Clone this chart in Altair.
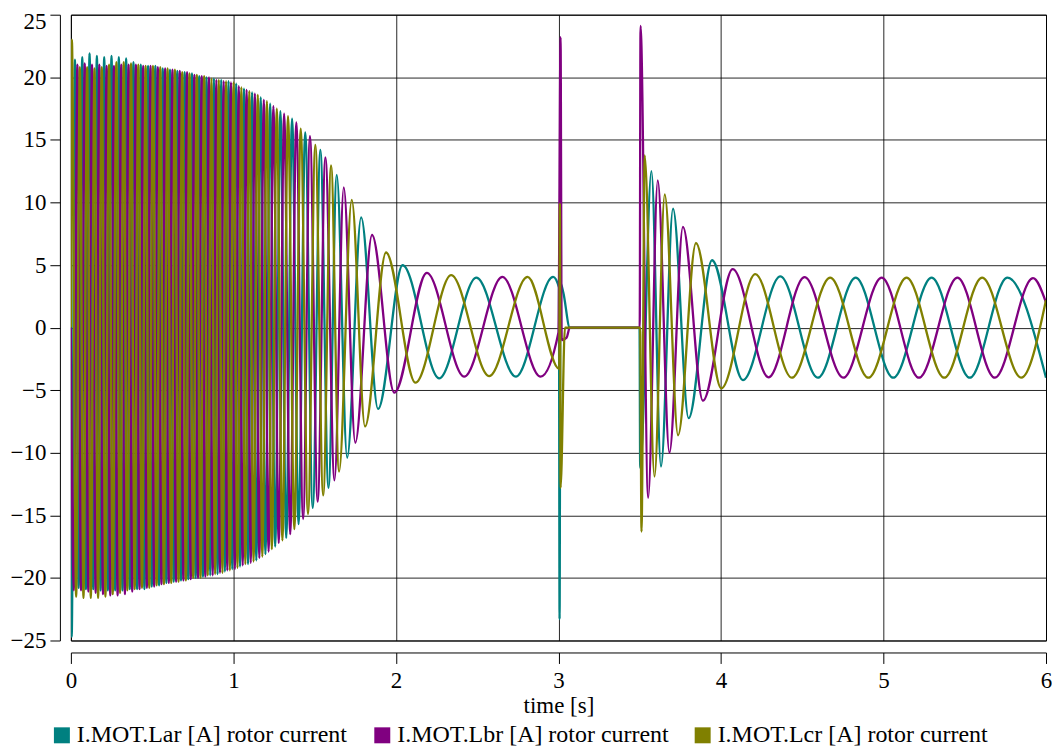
import altair as alt
import pandas as pd

LABELS = ["I.MOT.Lar [A] rotor current", "I.MOT.Lbr [A] rotor current", "I.MOT.Lcr [A] rotor current"]
COLORS = ["#008080", "#800080", "#808000"]
X_TICKS = [0, 1, 2, 3, 4, 5, 6]
Y_TICKS = [-25, -20, -15, -10, -5, 0, 5, 10, 15, 20, 25]

# extrema (time in s, current in A)
t_a = [0, 0.005,
       0.025, 0.0475, 0.070, 0.0925, 0.115, 0.1375, 0.160, 0.1825, 0.205, 0.2275, 0.250, 0.2725,
       0.295, 0.3175, 0.340, 0.3625, 0.385, 0.4075, 0.430, 0.4525, 0.475, 0.4975, 0.520, 0.5425,
       0.565, 0.5875, 0.610, 0.6325, 0.655, 0.6775, 0.700, 0.7225, 0.745, 0.7675, 0.790, 0.8125,
       0.835, 0.8575, 0.880, 0.9025, 0.925, 0.9475, 0.970, 0.993, 1.017, 1.041, 1.065, 1.090,
       1.115, 1.141, 1.168, 1.197, 1.226, 1.257, 1.289, 1.325, 1.361, 1.401, 1.442, 1.488,
       1.535, 1.585, 1.636,
       1.70, 1.786, 1.89, 2.041, 2.266, 2.495, 2.738, 2.967,
       3.003, 3.007, 3.012, 3.03, 3.07, 3.499, 3.503,
       3.572, 3.631, 3.705, 3.801, 3.945, 4.135, 4.365, 4.596, 4.829, 5.060, 5.296, 5.531, 5.762, 6.0]
v_a = [0, -24.7,
       21.4, -20.8, 21.6, -20.9, 21.9, -20.9, 21.7, -21.0, 21.6, -21.0, 21.7, -21.0,
       21.6, -21.0, 21.5, -20.9, 21.2, -20.9, 21.0, -20.9, 20.9, -20.7, 20.9, -20.6,
       20.7, -20.4, 20.6, -20.3, 20.5, -20.2, 20.4, -20.1, 20.3, -20.0, 20.1, -19.9,
       20.0, -19.8, 19.9, -19.7, 19.8, -19.5, 19.7, -19.3, 19.5, -19.1, 19.1, -18.9,
       18.8, -18.6, 18.4, -18.1, 17.9, -17.5, 17.3, -16.8, 16.7, -15.7, 15.6, -14.4,
       14.2, -12.8, 12.2,
       -10.4, 8.8, -6.5, 4.98, -4.05, 4.0, -3.92, 4.05,
       3.2, -23.3, 3.6, 2.8, 0, 0, -11.2,
       12.5, -11.1, 9.5, -7.24, 5.38, -4.19, 4.1, -4.0, 4.0, -4.0, 4.0, -4.0, 4.0, -4.0]

t_b = [0, 0.0175,
       0.040, 0.0625, 0.085, 0.1075, 0.130, 0.1525, 0.175, 0.1975, 0.220, 0.2425, 0.265, 0.2875,
       0.310, 0.3325, 0.355, 0.3775, 0.400, 0.4225, 0.445, 0.4675, 0.490, 0.5125, 0.535, 0.5575,
       0.580, 0.6025, 0.625, 0.6475, 0.670, 0.6925, 0.715, 0.7375, 0.760, 0.7825, 0.805, 0.8275,
       0.850, 0.8725, 0.895, 0.9175, 0.940, 0.9625, 0.985, 1.009, 1.033, 1.057, 1.081, 1.1065,
       1.132, 1.1595, 1.187, 1.2165, 1.246, 1.279, 1.312, 1.3495, 1.387, 1.429, 1.471, 1.5185,
       1.566,
       1.622, 1.679, 1.75, 1.853, 1.99, 2.19, 2.42, 2.655, 2.89,
       3.0, 3.013, 3.02, 3.05, 3.07, 3.5, 3.505,
       3.552, 3.611, 3.683, 3.766, 3.889, 4.072, 4.293, 4.514, 4.753, 4.989, 5.218, 5.455, 5.685,
       5.920, 6.0]
v_b = [0, -21.0,
       21.0, -21.0, 21.1, -21.1, 21.0, -21.2, 21.0, -21.3, 20.9, -21.4, 20.9, -21.4,
       21.0, -21.3, 21.0, -21.1, 21.0, -20.9, 20.9, -20.8, 20.9, -20.7, 20.8, -20.5,
       20.7, -20.4, 20.6, -20.3, 20.5, -20.2, 20.4, -20.1, 20.2, -20.0, 20.1, -19.9,
       20.0, -19.8, 19.8, -19.6, 19.7, -19.4, 19.6, -19.3, 19.3, -19.0, 19.0, -18.8,
       18.7, -18.4, 18.2, -17.9, 17.7, -17.2, 17.1, -16.5, 16.4, -15.3, 15.3, -13.9,
       13.6,
       -12.2, 11.2, -9.2, 7.4, -5.2, 4.37, -3.92, 4.05, -3.92,
       -0.4, 23.2, -1.0, -0.8, 0, 0, 24.1,
       -13.6, 11.76, -10.0, 8.04, -5.84, 4.67, -3.97, 4.04, -4.0, 4.0, -4.0, 4.0, -4.0,
       3.95, 2.0]

t_c = [0, 0.006,
       0.0325, 0.055, 0.0775, 0.100, 0.1225, 0.145, 0.1675, 0.190, 0.2125, 0.235, 0.2575, 0.280,
       0.3025, 0.325, 0.3475, 0.370, 0.3925, 0.415, 0.4375, 0.460, 0.4825, 0.505, 0.5275, 0.550,
       0.5725, 0.595, 0.6175, 0.640, 0.6625, 0.685, 0.7075, 0.730, 0.7525, 0.775, 0.7975, 0.820,
       0.8425, 0.865, 0.8875, 0.910, 0.9325, 0.955, 0.978, 1.001, 1.025, 1.049, 1.0735, 1.098,
       1.124, 1.150, 1.178, 1.206, 1.2365, 1.267, 1.3015, 1.336, 1.375, 1.414, 1.459, 1.504,
       1.5525, 1.601,
       1.65, 1.728, 1.81, 1.939, 2.12, 2.34, 2.574, 2.81,
       3.005, 3.009, 3.013, 3.04, 3.503,
       3.511, 3.531, 3.591, 3.654, 3.736, 3.846, 4.002, 4.211, 4.436, 4.672, 4.907, 5.142, 5.374,
       5.607, 5.848, 6.0]
v_c = [0, 23.0,
       -21.5, 20.8, -21.6, 20.8, -21.6, 20.7, -21.6, 20.8, -21.5, 21.0, -21.3, 21.2,
       -21.2, 21.2, -21.0, 21.1, -20.9, 21.0, -20.8, 20.9, -20.8, 20.9, -20.6, 20.8,
       -20.5, 20.7, -20.4, 20.6, -20.3, 20.4, -20.2, 20.3, -20.0, 20.2, -20.0, 20.1,
       -19.8, 19.9, -19.7, 19.8, -19.6, 19.7, -19.4, 19.6, -19.2, 19.2, -18.9, 18.9,
       -18.7, 18.6, -18.3, 18.1, -17.7, 17.5, -17.0, 16.9, -16.1, 15.9, -14.9, 14.6,
       -13.4, 12.96,
       -11.5, 10.2, -7.9, 6.0, -4.4, 4.19, -3.87, 4.05,
       -3.3, 9.9, -12.8, 0, 0,
       -16.3, 13.76, -11.9, 10.65, -8.6, 6.76, -4.85, 4.27, -4.0, 4.0, -4.0, 4.0, -4.0,
       4.0, -4.0, 2.2]

series = [(LABELS[0], t_a, v_a), (LABELS[1], t_b, v_b), (LABELS[2], t_c, v_c)]
rows = []
for lab, ts, vs in series:
    assert len(ts) == len(vs), (lab, len(ts), len(vs))
    for t, v in zip(ts, vs):
        rows.append({"t": t, "v": v, "series": lab})
df = pd.DataFrame(rows)

FONT = "Liberation Serif"

color = alt.Color(
    "series:N",
    scale=alt.Scale(domain=LABELS, range=COLORS),
    legend=alt.Legend(
        title=None, orient="none", legendX=-21, legendY=710, direction="horizontal",
        columns=3, gridAlign="all", columnPadding=13, symbolType="square", symbolSize=64,
        symbolStrokeWidth=8, symbolOpacity=1, labelFont=FONT, labelFontSize=24,
        labelColor="black", labelOffset=3, padding=0, labelLimit=400,
    ),
)

layers = []
for lab in LABELS:
    layers.append(
        alt.Chart(df).transform_filter(alt.datum.series == lab)
        .mark_line(strokeWidth=2.3, interpolate="monotone", clip=True)
        .encode(
            x=alt.X("t:Q", scale=alt.Scale(domain=[0, 6], nice=False, zero=False),
                    axis=alt.Axis(values=X_TICKS, title="time [s]", offset=12, tickSize=11,
                                  labelPadding=6, titlePadding=2, format="d")),
            y=alt.Y("v:Q", scale=alt.Scale(domain=[-25, 25], nice=False),
                    axis=alt.Axis(values=Y_TICKS, title=None, offset=11, tickSize=10,
                                  labelPadding=4, format="d",
                                  labelOffset={"condition": {"test": "datum.value == 25", "value": 7},
                                               "value": 0})),
            color=color,
        )
    )

chart = (
    alt.layer(*layers)
    .properties(width=977, height=627,
                padding={"left": 63, "top": 6, "right": 6, "bottom": 107},
                autosize=alt.AutoSizeParams(type="none"))
    .configure_view(stroke="black", strokeWidth=1)
    .configure_axis(domainColor="black", tickColor="black", labelColor="black",
                    titleColor="black", labelFont=FONT, titleFont=FONT, labelFontSize=23,
                    titleFontSize=23, titleFontWeight="normal", gridColor="black",
                    gridOpacity=0.85, gridWidth=1, labelFlush=False, labelOverlap=False,
                    domainWidth=1, tickWidth=1)
)

chart.save("out.html", embed_options={"renderer": "svg", "actions": False})
